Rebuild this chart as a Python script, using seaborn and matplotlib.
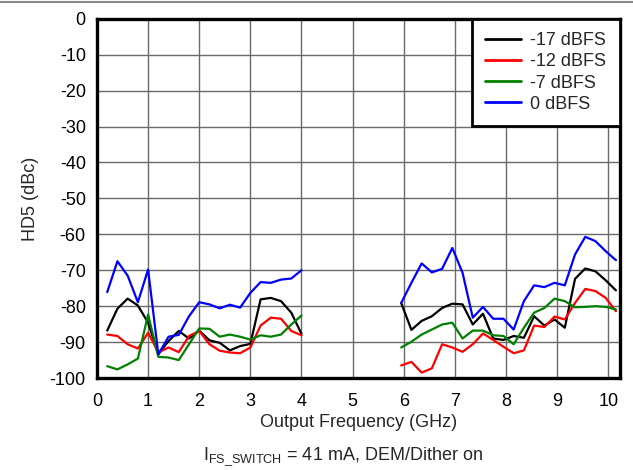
import numpy as np
import pandas as pd
import matplotlib
matplotlib.use('Agg')
import matplotlib.pyplot as plt
from matplotlib.lines import Line2D
import seaborn as sns

# frequency points of the two measured bands (GHz)
freq_low = [0.2, 0.4, 0.6, 0.8, 1.0, 1.2, 1.4, 1.6, 1.8, 2.0,
            2.2, 2.4, 2.6, 2.8, 3.0, 3.2, 3.4, 3.6, 3.8, 4.0]
freq_high = [5.95, 6.15, 6.35, 6.55, 6.75, 6.95, 7.15, 7.35, 7.55, 7.75, 7.95,
             8.15, 8.35, 8.55, 8.75, 8.95, 9.15, 9.35, 9.55, 9.75, 9.95, 10.15]

levels = ['-17 dBFS', '-12 dBFS', '-7 dBFS', '0 dBFS']
colors = ['#000000', '#ff0000', '#008000', '#0000ff']

# HD5 (dBc), low band
hd5_low = {
    '-17 dBFS': [-86.8, -80.7, -77.9, -79.8, -84.6, -93.4, -89.7, -86.9, -89.0, -86.8,
                 -89.5, -90.2, -92.3, -91.1, -90.5, -78.1, -77.7, -78.6, -81.8, -87.7],
    '-12 dBFS': [-87.9, -88.3, -90.6, -91.8, -87.4, -92.9, -91.5, -92.8, -88.3, -86.9,
                 -90.6, -92.4, -92.9, -93.1, -91.5, -85.4, -83.2, -83.5, -86.9, -88.1],
    '-7 dBFS': [-96.7, -97.6, -96.2, -94.6, -82.3, -94.1, -94.3, -95.0, -90.6, -86.2,
                -86.3, -88.5, -87.9, -88.5, -89.3, -88.1, -88.5, -87.9, -85.1, -82.6],
    '0 dBFS': [-76.1, -67.5, -71.5, -78.9, -69.8, -93.4, -88.5, -88.0, -82.8, -78.9,
               -79.5, -80.6, -79.6, -80.4, -76.3, -73.3, -73.5, -72.6, -72.3, -70.0],
}

# HD5 (dBc), high band
hd5_high = {
    '-17 dBFS': [-79.1, -86.6, -84.1, -82.8, -80.5, -79.3, -79.5, -85.1, -82.1, -89.0, -89.4,
                 -88.3, -88.8, -82.8, -85.4, -83.7, -86.0, -72.4, -69.5, -70.3, -72.8, -75.6],
    '-12 dBFS': [-96.5, -95.5, -98.5, -97.3, -90.6, -91.5, -92.7, -90.6, -87.6, -89.4, -91.3,
                 -93.1, -92.3, -85.4, -85.8, -82.9, -83.7, -79.1, -75.2, -75.8, -77.7, -81.4],
    '-7 dBFS': [-91.5, -89.9, -87.9, -86.5, -85.1, -84.6, -89.0, -86.8, -86.8, -88.1, -88.3,
                -90.6, -86.0, -81.8, -80.5, -77.9, -78.6, -80.3, -80.2, -80.0, -80.2, -80.9],
    '0 dBFS': [-79.1, -73.5, -68.1, -70.6, -69.6, -63.8, -70.7, -83.2, -80.2, -83.5, -83.5,
               -86.5, -78.6, -74.2, -74.7, -73.5, -74.2, -65.6, -60.7, -61.9, -64.7, -67.2],
}

rows = []
for lvl in levels:
    for f, v in zip(freq_low, hd5_low[lvl]):
        rows.append({'freq': f, 'hd5': v, 'level': lvl, 'band': 'low'})
    for f, v in zip(freq_high, hd5_high[lvl]):
        rows.append({'freq': f, 'hd5': v, 'level': lvl, 'band': 'high'})
df = pd.DataFrame(rows)

sns.set_style('white')
plt.rcParams['font.family'] = ['Liberation Sans', 'DejaVu Sans']
plt.rcParams['mathtext.fontset'] = 'custom'
plt.rcParams['mathtext.rm'] = 'Liberation Sans'
plt.rcParams['axes.unicode_minus'] = False

fig = plt.figure(figsize=(6.33, 4.70), dpi=100)
ax = fig.add_axes([0.1532, 0.1957, 0.8263, 0.7643])

sns.lineplot(data=df, x='freq', y='hd5', hue='level', hue_order=levels,
             palette=colors, units='band', estimator=None, sort=False,
             linewidth=1.6, ax=ax)

ax.set_xlim(0, 10.23)
ax.set_ylim(-100, 0)
ax.set_xticks(range(0, 11))
ax.set_yticks(range(-100, 1, 10))
ax.grid(True, color='#6a6a6a', linewidth=1.0)
ax.set_axisbelow(True)
ax.tick_params(length=0, labelsize=13, colors='#000000')
ax.tick_params(axis='x', pad=11)
ax.tick_params(axis='y', pad=8)
for s in ax.spines.values():
    s.set_color('black')
    s.set_linewidth(2.4)

ax.set_xlabel('Output Frequency (GHz)', fontsize=13, labelpad=3)
ax.set_ylabel('HD5 (dBc)', fontsize=13, labelpad=8)

leg = ax.legend(loc='upper right', fontsize=13, frameon=True, fancybox=False,
                borderaxespad=0, handlelength=2.0, labelspacing=0.23,
                borderpad=0.75, handletextpad=0.5)
leg.get_frame().set_edgecolor('black')
leg.get_frame().set_linewidth(2.0)
leg.get_frame().set_alpha(1)
for h in leg.get_lines():
    h.set_linewidth(2.0)

fig.text(0.542, 0.028, r'I$_{\mathrm{FS\_SWITCH}}$ = 41 mA, DEM/Dither on',
         ha='center', va='center', fontsize=13)

# separator line at the top of the figure
fig.add_artist(Line2D([0, 1], [0.996, 0.996], color='#888888', linewidth=1.5))

fig.savefig('out.png', dpi=100)
